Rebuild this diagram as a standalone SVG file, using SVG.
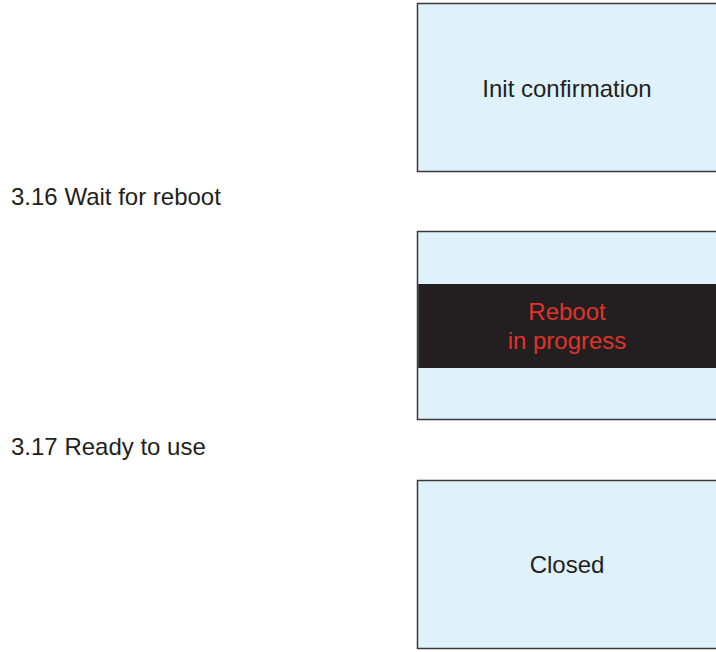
<svg xmlns="http://www.w3.org/2000/svg" width="716" height="652" viewBox="0 0 716 652">
<style>
.box{fill:#dff2fb;stroke:#3a3a3a;stroke-width:1.5}
.t{font-family:"Liberation Sans",Arial,sans-serif;font-size:24px;fill:#231f20}
.c{text-anchor:middle}
.r{fill:#e0342a}
</style>
<rect width="716" height="652" fill="#ffffff"/>
<g id="connectors"></g>
<g id="init">
<rect class="box" x="417.5" y="3.5" width="310" height="168"/>
<text class="t c" x="567" y="97">Init confirmation</text>
</g>
<text class="t" x="11" y="205">3.16 Wait for reboot</text>
<g id="reboot">
<rect class="box" x="417.5" y="231.5" width="310" height="188"/>
<rect x="418.25" y="284" width="300" height="84" fill="#231f20"/>
<text class="t c r" x="567" y="320">Reboot</text>
<text class="t c r" x="567" y="349">in progress</text>
</g>
<text class="t" x="11" y="455">3.17 Ready to use</text>
<g id="closed">
<rect class="box" x="417.5" y="480.5" width="310" height="168"/>
<text class="t c" x="567" y="573">Closed</text>
</g>
</svg>
